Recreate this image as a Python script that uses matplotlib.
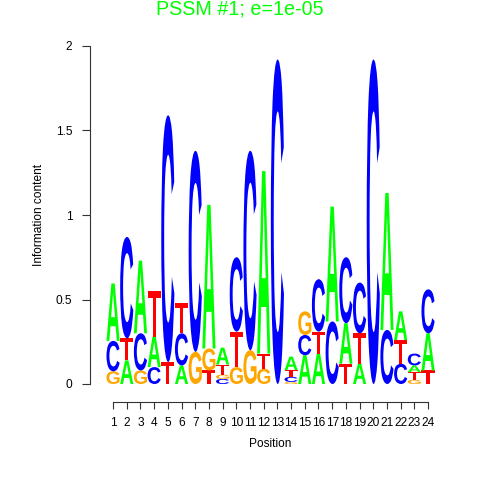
import matplotlib
matplotlib.use("Agg")
import matplotlib.pyplot as plt
from matplotlib.font_manager import FontProperties
from matplotlib.patches import PathPatch
from matplotlib.textpath import TextPath
from matplotlib.transforms import Affine2D

plt.rcParams["font.family"] = ["Liberation Sans", "DejaVu Sans"]

# information content of each letter at each position
positions = list(range(1, 25))
height_A = [0.34, 0.14, 0.43, 0.18, 0, 0.11, 0, 0.85, 0.10, 0, 0, 1.08,
            0, 0.08, 0.17, 0.18, 0.68, 0.24, 0.12, 0, 0.81, 0.17, 0.04, 0.22]
height_C = [0.18, 0.60, 0.22, 0.10, 1.46, 0.19, 1.19, 0, 0.03, 0.44, 1.18, 0,
            1.92, 0.03, 0.12, 0.31, 0.37, 0.39, 0.30, 1.92, 0.32, 0.12, 0.07, 0.26]
height_G = [0.075, 0, 0.08, 0, 0, 0, 0.19, 0.13, 0.025, 0.10, 0.20, 0.09,
            0, 0.012, 0.14, 0, 0, 0, 0, 0, 0, 0, 0.025, 0]
height_T = [0, 0.13, 0, 0.27, 0.13, 0.18, 0, 0.08, 0.06, 0.21, 0, 0.09,
            0, 0.04, 0, 0.13, 0, 0.12, 0.18, 0, 0, 0.14, 0.045, 0.08]
# stacking order, bottom to top
stack_order = ["GCA", "ATC", "GCA", "CAT", "TC", "ACT", "GC", "TGA",
               "CGTA", "GTC", "GC", "GTA", "C", "GCTA", "ACG", "ATC",
               "CA", "TAC", "ATC", "C", "CA", "CTA", "GTAC", "TAC"]
yticks = [0, 0.5, 1, 1.5, 2]
ytick_labels = ["0", "0.5", "1", "1.5", "2"]
title = "PSSM #1; e=1e-05"

heights = {"A": height_A, "C": height_C, "G": height_G, "T": height_T}
colors = {"A": "#00FF00", "C": "#0000FF", "G": "#FFA500", "T": "#FF0000"}
font = FontProperties(family="Liberation Sans", weight="bold")


def draw_letter(ax, letter, x, y, h, width=0.96):
    tp = TextPath((0, 0), letter, size=1, prop=font)
    ext = tp.get_extents()
    tr = (Affine2D()
          .translate(-ext.x0, -ext.y0)
          .scale(width / ext.width, h / ext.height)
          .translate(x - width / 2, y))
    ax.add_patch(PathPatch(tr.transform_path(tp), facecolor=colors[letter],
                           edgecolor="none"))


fig = plt.figure(figsize=(4.8, 4.8), dpi=100)
ax = fig.add_axes([106.2 / 480, 96 / 480, 328.7 / 480, 338 / 480])

for i, pos in enumerate(positions):
    y = 0.0
    for letter in stack_order[i]:
        h = heights[letter][i]
        if h > 0:
            draw_letter(ax, letter, pos, y, h)
            y += h

ax.set_xlim(0.5, 24.5)
ax.set_ylim(0, 2)
for side in ["top", "right"]:
    ax.spines[side].set_visible(False)
ax.spines["left"].set_position(("outward", 11.7))
ax.spines["bottom"].set_position(("outward", 13))
ax.spines["left"].set_bounds(0, 2)
ax.spines["bottom"].set_bounds(1, 24)
for side in ["left", "bottom"]:
    ax.spines[side].set_linewidth(0.8)
    ax.spines[side].set_color("#333333")

ax.set_yticks(yticks)
ax.set_yticklabels(ytick_labels)
ax.set_xticks(positions)
ax.set_xticklabels([str(p) for p in positions])
ax.tick_params(axis="y", length=5.8, width=0.8, color="#333333",
               pad=7, labelsize=8.6)
ax.tick_params(axis="x", length=5, width=0.8, color="#333333",
               pad=6, labelsize=8.6)
ax.set_xlabel("Position", fontsize=8.6, labelpad=6)
ax.set_ylabel("Information content", fontsize=8.6, labelpad=8)
fig.text(0.5, 1 - 9 / 480, title, ha="center", va="center",
         color="#00FF00", fontsize=14.2)

fig.savefig("out.png", dpi=100)
